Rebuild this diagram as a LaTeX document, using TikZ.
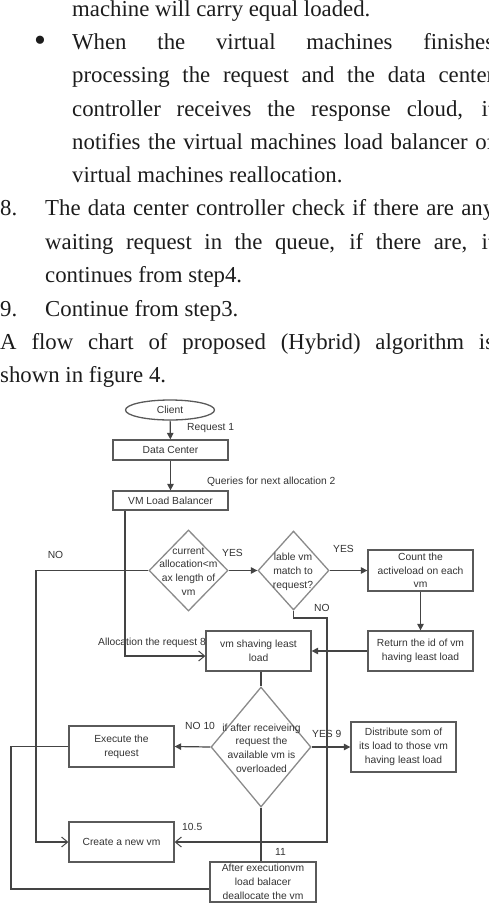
\documentclass[tikz,border=0pt]{standalone}
\usepackage{fontspec}
\setmainfont{Liberation Serif}
\newfontfamily\flowfont{Liberation Sans}
\usetikzlibrary{shapes.geometric,arrows.meta}
\definecolor{bodytxt}{HTML}{1C1C1C}
\definecolor{flowtxt}{HTML}{333333}
\definecolor{boxline}{HTML}{5A5A5A}
\definecolor{dialine}{HTML}{8A8A8A}
\definecolor{conline}{HTML}{444444}
\begin{document}
\begin{tikzpicture}[x=1pt,y=-1pt,
  body/.style={anchor=base west, inner sep=0, text=bodytxt, font=\fontsize{22.8pt}{33pt}\selectfont},
  ftxt/.style={inner sep=0, text=flowtxt, font=\flowfont\fontsize{10.3pt}{13.7pt}\selectfont},
  box/.style={ftxt, draw=boxline, line width=1.3pt, align=center},
  dia/.style={diamond, draw=dialine, line width=1.3pt, inner sep=0},
  con/.style={draw=conline, line width=1.2pt},
  farrow/.style={con, -{Triangle[length=6.5pt,width=6.5pt]}},
  oarrow/.style={con, -{Straight Barb[length=6pt,width=10pt,line width=1pt]}}
]
\useasboundingbox (0,0) rectangle (489,903);
\clip (0,0) rectangle (489,903);

% ---------- body text ----------
\node[body] (l1) at (72,16) {machine will carry equal loaded.};
\node[inner sep=0, text=bodytxt, font=\fontsize{34pt}{34pt}\selectfont] (bul) at (40,44) {\textbullet};
\node[body] (l2) at (72,49) {\makebox[422pt][s]{When the virtual machines finishes}};
\node[body] (l3) at (72,82.5) {\makebox[422pt][s]{processing the request and the data center}};
\node[body] (l4) at (72,116) {\makebox[422pt][s]{controller receives the response cloud, it}};
\node[body] (l5) at (72,149) {\makebox[422pt][s]{notifies the virtual machines load balancer of}};
\node[body] (l6) at (72,182) {virtual machines reallocation.};
\node[body] (n8) at (0,215) {8.};
\node[body] (l7) at (45,215) {\makebox[449pt][s]{The data center controller check if there are any}};
\node[body] (l8) at (45,249) {\makebox[449pt][s]{waiting request in the queue, if there are, it}};
\node[body] (l9) at (45,282) {continues from step4.};
\node[body] (n9) at (0,316) {9.};
\node[body] (l10) at (45,316) {Continue from step3.};
\node[body] (l11) at (0,349) {\makebox[494pt][s]{A flow chart of proposed (Hybrid) algorithm is}};
\node[body] (l12) at (0,382) {shown in figure 4.};

% ---------- flow chart nodes ----------
\node[ellipse, draw=boxline, line width=1.3pt, ftxt, minimum width=89pt, minimum height=20pt] (client) at (170,410) {Client};
\node[box, minimum width=115pt, minimum height=20pt] (dc) at (170.5,450) {Data Center};
\node[box, minimum width=115pt, minimum height=19pt] (vmlb) at (170.5,500.5) {VM Load Balancer};

\node[dia, minimum width=79pt, minimum height=81pt] (d1) at (188.5,570.5) {};
\node[ftxt, align=center] (d1t) at (188.5,571.5) {current\\allocation<m\\ax length of\\vm};
\node[dia, minimum width=71pt, minimum height=79pt] (d2) at (293.5,570.5) {};
\node[ftxt, align=center] (d2t) at (293,572) {lable vm\\match to\\request?};

\node[box, minimum width=105pt, minimum height=41pt] (count) at (420.5,570.5) {Count the\\activeload on each\\vm};
\node[box, minimum width=105pt, minimum height=40pt] (ret) at (420.5,651) {Return the id of vm\\having least load};
\node[box, minimum width=105pt, minimum height=40pt] (vms) at (258.5,651) {vm shaving least\\load};

\node[dia, minimum width=100pt, minimum height=120pt] (d3) at (261,747) {};
\node[ftxt, align=center] (d3t) at (261.5,748) {if after receiveing\\request the\\available vm is\\overloaded};

\node[box, minimum width=105pt, minimum height=41pt] (exec) at (121.5,746.5) {Execute the\\request};
\node[box, minimum width=105pt, minimum height=50pt] (dist) at (403.5,747) {Distribute som of\\its load to those vm\\having least load};
\node[box, minimum width=105pt, minimum height=40pt] (create) at (121.5,842) {Create a new vm};
\node[box, minimum width=106pt, minimum height=40pt] (after) at (263,882) {After executionvm\\load balacer\\deallocate the vm};

% ---------- labels ----------
\node[ftxt, anchor=west] (lreq) at (187,428) {Request 1};
\node[ftxt, anchor=west] (lq) at (207,482) {Queries for next allocation 2};
\node[ftxt] (lno1) at (55.5,555) {NO};
\node[ftxt, anchor=west] (lyes1) at (222,553) {YES};
\node[ftxt, anchor=west] (lyes2) at (333,549) {YES};
\node[ftxt, anchor=west] (lno2) at (314,608) {NO};
\node[ftxt, anchor=east] (lalloc) at (206,643) {Allocation the request 8};
\node[ftxt, anchor=west] (lno10) at (185,726) {NO 10};
\node[ftxt, anchor=west] (lyes9) at (312,734) {YES 9};
\node[ftxt, anchor=west] (l105) at (182,827) {10.5};
\node[ftxt, anchor=west] (l11) at (275,852) {11};

% ---------- helper coordinates ----------
\coordinate (allocx) at (125,0);
\coordinate (nox) at (36,0);
\coordinate (rx) at (327,618);
\coordinate (lx) at (11,0);

% ---------- connectors ----------
\draw[farrow] (client) -- (dc);
\draw[farrow] (dc) -- (vmlb);
\draw[oarrow] (vmlb.south -| allocx) |- ([yshift=-5pt]vms.west);
\draw[oarrow] (d1.west) -- (d1.west -| nox) |- (create.west);
\draw[farrow] (d1.east) -- (d2.west);
\draw[farrow] (d2.east) -- (count.west);
\draw[farrow] (count.south) -- (ret.north);
\draw[farrow] (ret.west) -- (vms.east);
\draw[oarrow] (d2.south) |- (rx) |- (create.east);
\draw[con] (vms.south -| d3.north) -- (d3.north);
\draw[farrow] (d3.west) -- (exec.east);
\draw[farrow] (d3.east) -- (dist.west);
\draw[con] (d3.south) -- (d3.south |- after.north);
\draw[con] (exec.west) -- (exec.west -| lx) |- ([yshift=-7pt]after.west);
\end{tikzpicture}
\end{document}
